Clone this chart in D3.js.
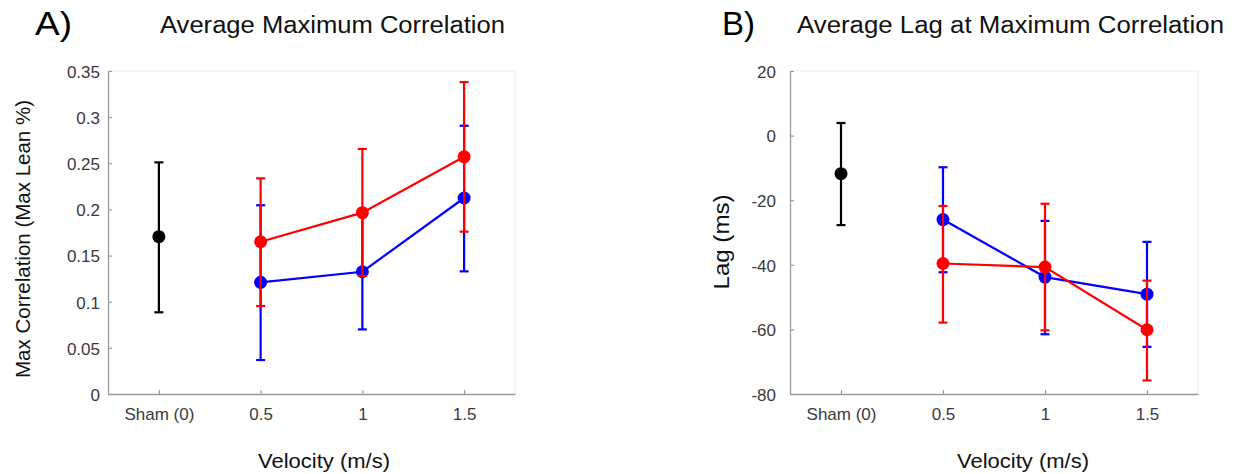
<!DOCTYPE html>
<html>
<head>
<meta charset="utf-8">
<script src="https://cdn.jsdelivr.net/npm/d3@7"></script>
<style>
  html, body { margin: 0; padding: 0; background: #fff; }
  svg { display: block; font-family: "Liberation Sans", Arial, Helvetica, sans-serif; }
</style>
</head>
<body>
<svg id="chart" width="1238" height="474"></svg>
<script>
// ---------- data ----------
const categories = ["Sham (0)", "0.5", "1", "1.5"];
const shamCategory = ["Sham (0)"];
const velocityCategories = ["0.5", "1", "1.5"];

// Panel A: Average Maximum Correlation
const corrShamMean = [0.1705];
const corrShamLow = [0.0885];
const corrShamHigh = [0.251];
const corrBlueMean = [0.121, 0.1325, 0.2124];
const corrBlueLow = [0.0368, 0.070, 0.1329];
const corrBlueHigh = [0.2045, 0.195, 0.2907];
const corrRedMean = [0.165, 0.1965, 0.257];
const corrRedLow = [0.0953, 0.1279, 0.1759];
const corrRedHigh = [0.2337, 0.2655, 0.338];
const corrTicks = [0, 0.05, 0.1, 0.15, 0.2, 0.25, 0.3, 0.35];
const corrTickLabels = ["0", "0.05", "0.1", "0.15", "0.2", "0.25", "0.3", "0.35"];

// Panel B: Average Lag at Maximum Correlation
const lagShamMean = [-11.8];
const lagShamLow = [-27.7];
const lagShamHigh = [3.9];
const lagBlueMean = [-26.0, -43.8, -49.1];
const lagBlueLow = [-42.3, -61.5, -65.4];
const lagBlueHigh = [-9.8, -26.4, -32.9];
const lagRedMean = [-39.6, -40.7, -60.1];
const lagRedLow = [-57.9, -60.3, -75.8];
const lagRedHigh = [-21.8, -21.1, -44.9];
const lagTicks = [-80, -60, -40, -20, 0, 20];
const lagTickLabels = ["-80", "-60", "-40", "-20", "0", "20"];

// ---------- drawing ----------
const svg = d3.select("#chart");
const AXIS_COLOR = "#9a9a9a";
const TEXT_COLOR = "#3a3a3a";

function series(cats, mean, low, high) {
  return cats.map((c, i) => ({ c, m: mean[i], lo: low[i], hi: high[i] }));
}

function panel(cfg) {
  const g = svg.append("g");
  const x = d3.scalePoint().domain(categories).range([cfg.left, cfg.right]).padding(0.5);
  const y = d3.scaleLinear().domain(cfg.domain).range([cfg.bottom, cfg.top]);

  // faint box top/right
  g.append("line").attr("x1", cfg.left).attr("x2", cfg.right).attr("y1", cfg.top).attr("y2", cfg.top)
    .attr("stroke", "#eeeeee").attr("stroke-width", 1);
  g.append("line").attr("x1", cfg.right).attr("x2", cfg.right).attr("y1", cfg.top).attr("y2", cfg.bottom)
    .attr("stroke", "#eeeeee").attr("stroke-width", 1);

  const yAxis = g.append("g").attr("transform", `translate(${cfg.left},0)`)
    .call(d3.axisLeft(y).tickValues(cfg.ticks).tickFormat((d, i) => cfg.tickLabels[i])
      .tickSizeInner(-4).tickSizeOuter(0).tickPadding(cfg.yPad));
  const xAxis = g.append("g").attr("transform", `translate(0,${cfg.bottom})`)
    .call(d3.axisBottom(x).tickSizeInner(-4).tickSizeOuter(0).tickPadding(14));
  [yAxis, xAxis].forEach(a => {
    a.select(".domain").attr("stroke", AXIS_COLOR).attr("stroke-width", 1.3);
    a.selectAll(".tick line").attr("stroke", AXIS_COLOR).attr("stroke-width", 1.2);
    a.selectAll(".tick text").attr("fill", TEXT_COLOR).style("font-size", "17px")
      .style("font-family", "'Liberation Sans', Arial, sans-serif");
  });
  yAxis.selectAll(".tick text").attr("dy", "0.55em").attr("y", -3);

  function drawSeries(data, color, connect) {
    const sg = g.append("g");
    if (connect) {
      sg.append("path").datum(data)
        .attr("d", d3.line().x(d => x(d.c)).y(d => y(d.m)))
        .attr("fill", "none").attr("stroke", color).attr("stroke-width", 2.2);
    }
    const eb = sg.selectAll(".eb").data(data).enter().append("g");
    eb.append("line").attr("x1", d => x(d.c)).attr("x2", d => x(d.c))
      .attr("y1", d => y(d.lo)).attr("y2", d => y(d.hi))
      .attr("stroke", color).attr("stroke-width", 2.2);
    ["lo", "hi"].forEach(k => {
      eb.append("line").attr("x1", d => x(d.c) - 4.5).attr("x2", d => x(d.c) + 4.5)
        .attr("y1", d => y(d[k])).attr("y2", d => y(d[k]))
        .attr("stroke", color).attr("stroke-width", 2.2);
    });
    sg.selectAll(".pt").data(data).enter().append("circle")
      .attr("cx", d => x(d.c)).attr("cy", d => y(d.m)).attr("r", 6.5).attr("fill", color);
  }
  drawSeries(cfg.sham, "#000000", false);
  drawSeries(cfg.blue, "#0000ff", true);
  drawSeries(cfg.red, "#ff0000", true);

  // texts
  g.append("text").text(cfg.letter).attr("x", cfg.letterX).attr("y", 35)
    .attr("textLength", cfg.letterLen).attr("lengthAdjust", "spacingAndGlyphs")
    .style("font-size", "34px").attr("fill", "#000");
  g.append("text").text(cfg.title).attr("x", cfg.titleX).attr("y", 33)
    .attr("textLength", cfg.titleLen).attr("lengthAdjust", "spacingAndGlyphs")
    .style("font-size", "23px").attr("fill", "#111");
  g.append("text").text("Velocity (m/s)").attr("x", cfg.xlabX).attr("y", 468)
    .attr("textLength", 132).attr("lengthAdjust", "spacingAndGlyphs")
    .style("font-size", "21px").attr("fill", "#111");
  g.append("text").text(cfg.ylabel)
    .attr("transform", `translate(${cfg.ylabX},${cfg.ylabY}) rotate(-90)`)
    .attr("text-anchor", "middle")
    .attr("textLength", cfg.ylabLen).attr("lengthAdjust", "spacingAndGlyphs")
    .style("font-size", cfg.ylabSize + "px").attr("fill", "#111");
}

panel({
  left: 108, right: 515, top: 71, bottom: 394,
  domain: [0, 0.35], ticks: corrTicks, tickLabels: corrTickLabels, yPad: 8,
  sham: series(shamCategory, corrShamMean, corrShamLow, corrShamHigh),
  blue: series(velocityCategories, corrBlueMean, corrBlueLow, corrBlueHigh),
  red: series(velocityCategories, corrRedMean, corrRedLow, corrRedHigh),
  letter: "A)", letterX: 35, letterLen: 37,
  title: "Average Maximum Correlation", titleX: 160, titleLen: 345,
  xlabX: 258,
  ylabel: "Max Correlation  (Max Lean %)", ylabX: 30, ylabY: 239, ylabLen: 278, ylabSize: 20
});

panel({
  left: 790, right: 1198, top: 71, bottom: 394,
  domain: [-80, 20], ticks: lagTicks, tickLabels: lagTickLabels, yPad: 14,
  sham: series(shamCategory, lagShamMean, lagShamLow, lagShamHigh),
  blue: series(velocityCategories, lagBlueMean, lagBlueLow, lagBlueHigh),
  red: series(velocityCategories, lagRedMean, lagRedLow, lagRedHigh),
  letter: "B)", letterX: 722, letterLen: 33,
  title: "Average Lag at Maximum Correlation", titleX: 797, titleLen: 427,
  xlabX: 957,
  ylabel: "Lag (ms)", ylabX: 729, ylabY: 242, ylabLen: 95, ylabSize: 22
});
</script>
</body>
</html>
